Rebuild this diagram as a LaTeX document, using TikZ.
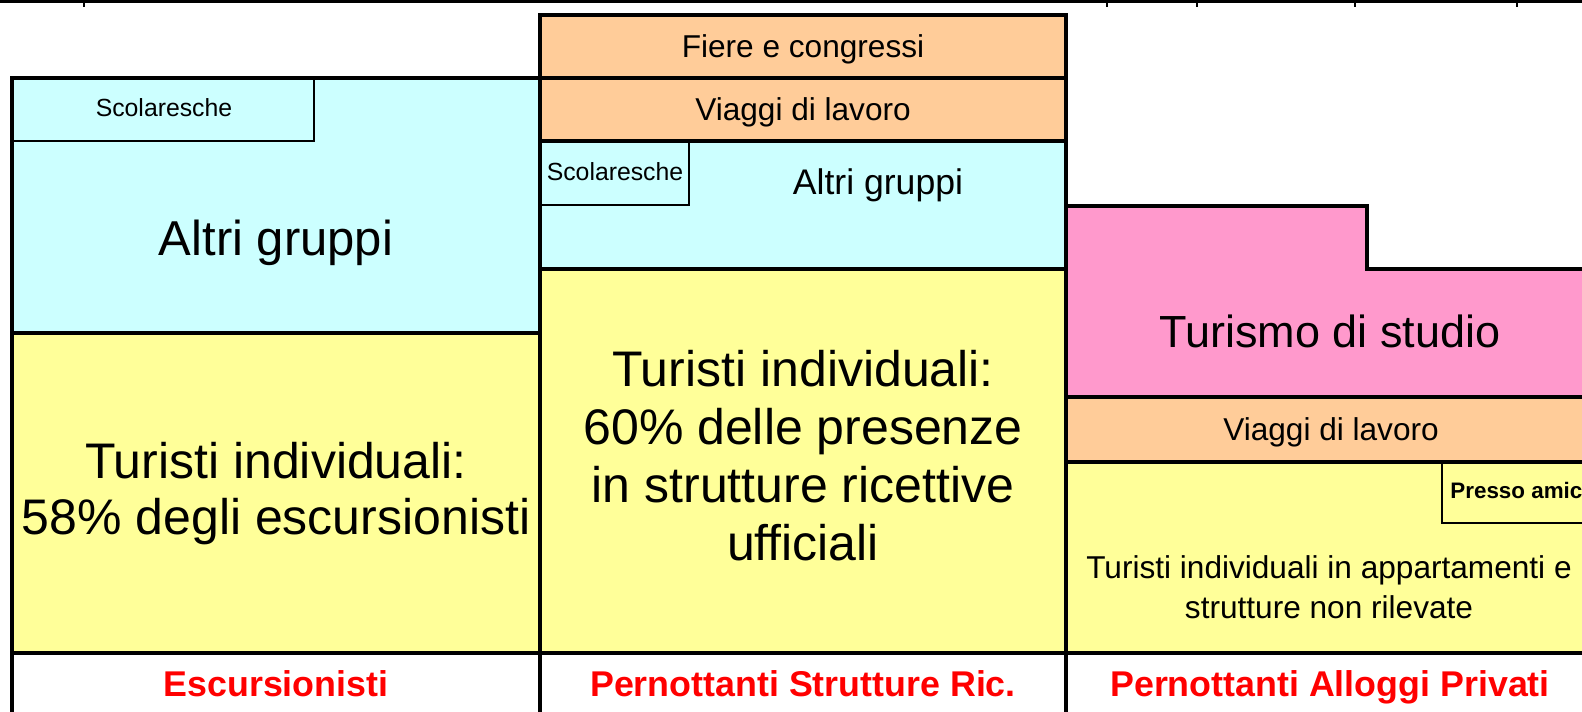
\documentclass[tikz,border=0pt]{standalone}
\usepackage{fontspec}
\setmainfont{Liberation Sans}
\usepackage{tikz}
\usetikzlibrary{positioning}
\definecolor{celeste}{HTML}{CCFFFF}
\definecolor{giallo}{HTML}{FFFF99}
\definecolor{arancio}{HTML}{FFCC99}
\definecolor{rosa}{HTML}{FF99CC}
\tikzset{area/.style={draw, line width=2pt}, inner/.style={draw, line width=1.4pt},
	lbl/.style={inner sep=0pt, anchor=base},
	blk/.style={inner sep=0pt, align=center},
	cat/.style={lbl, text=red, font=\fontsize{17.9}{20}\selectfont\bfseries}}

\begin{document}
\begin{tikzpicture}[x=0.5pt, y=-0.5pt]
		\useasboundingbox (0,0) rectangle (1582,711);
		\clip (0,0) rectangle (1582,711);
		% Escursionisti
		\filldraw[area, fill=celeste](12,78) rectangle (540,333);
		\filldraw[area, fill=giallo](12,333) rectangle (540,653);
		\draw[inner](314,78) -- (314,141) -- (12,141);
		% Pernottanti strutture ricettive
		\filldraw[area, fill=arancio](540,15) rectangle (1066,78);
		\filldraw[area, fill=arancio](540,78) rectangle (1066,141);
		\filldraw[area, fill=celeste](540,141) rectangle (1066,269);
		\filldraw[area, fill=giallo](540,269) rectangle (1066,653);
		\draw[inner](689,141) -- (689,205) -- (540,205);
		% Pernottanti alloggi privati
		\filldraw[area, fill=rosa](1066,397) -- (1066,206) -- (1367,206) -- (1367,269) -- (1600,269) -- (1600,397) -- cycle;
		\filldraw[area, fill=arancio](1066,397) rectangle (1600,462);
		\filldraw[area, fill=giallo](1066,462) rectangle (1600,653);
		\draw[inner](1442,462) -- (1442,523) -- (1600,523);
		% riga delle categorie
		\draw[area](12,653) -- (12,720);
		\draw[area](540,653) -- (540,720);
		\draw[area](1066,653) -- (1066,720);
		\draw[line width=1.6pt](0,1.6) -- (1582,1.6);
		\foreach \t in {84,1107,1197,1355,1517}
			\draw[line width=0.6pt](\t,0) -- (\t,7);
		% testi
		\node(escScol)[lbl, font=\fontsize{12.4}{14}\selectfont] at (164,117){Scolaresche};
		\node(escAltri)[lbl, font=\fontsize{24.5}{28}\selectfont] at (276,255){Altri gruppi};
		\node(escInd)[blk, font=\fontsize{25}{28}\selectfont] at (276,494){Turisti individuali:\\58\% degli escursionisti};
		\node(strFiere)[lbl, font=\fontsize{15.8}{18}\selectfont] at (803,57.5){Fiere e congressi};
		\node(strLav)[lbl, font=\fontsize{15.8}{18}\selectfont] at (803,120.5){Viaggi di lavoro};
		\node(strScol)[lbl, font=\fontsize{12.4}{14}\selectfont] at (615,181){Scolaresche};
		\node(strAltri)[lbl, font=\fontsize{17.8}{20}\selectfont] at (878,195){Altri gruppi};
		\node(strInd)[blk, font=\fontsize{25}{29}\selectfont] at (803,456){Turisti individuali:\\60\% delle presenze\\in strutture ricettive\\ufficiali};
		\node(priStudio)[lbl, font=\fontsize{22.5}{26}\selectfont] at (1330,347){Turismo di studio};
		\node(priLav)[lbl, font=\fontsize{15.8}{18}\selectfont] at (1331,440.5){Viaggi di lavoro};
		\node(priAmici)[lbl, anchor=base west, font=\fontsize{11.2}{13}\selectfont\bfseries] at (1450,498){Presso amic};
		\node(priInd)[blk, font=\fontsize{15.8}{20}\selectfont] at (1329,587){Turisti individuali in appartamenti e\\strutture non rilevate};
		\node(catEsc)[cat] at (276,696.5){Escursionisti};
		\node(catStr)[cat] at (803,696.5){Pernottanti Strutture Ric.};
		\node(catPri)[cat] at (1330,696.5){Pernottanti Alloggi Privati};
	\end{tikzpicture}
\end{document}
